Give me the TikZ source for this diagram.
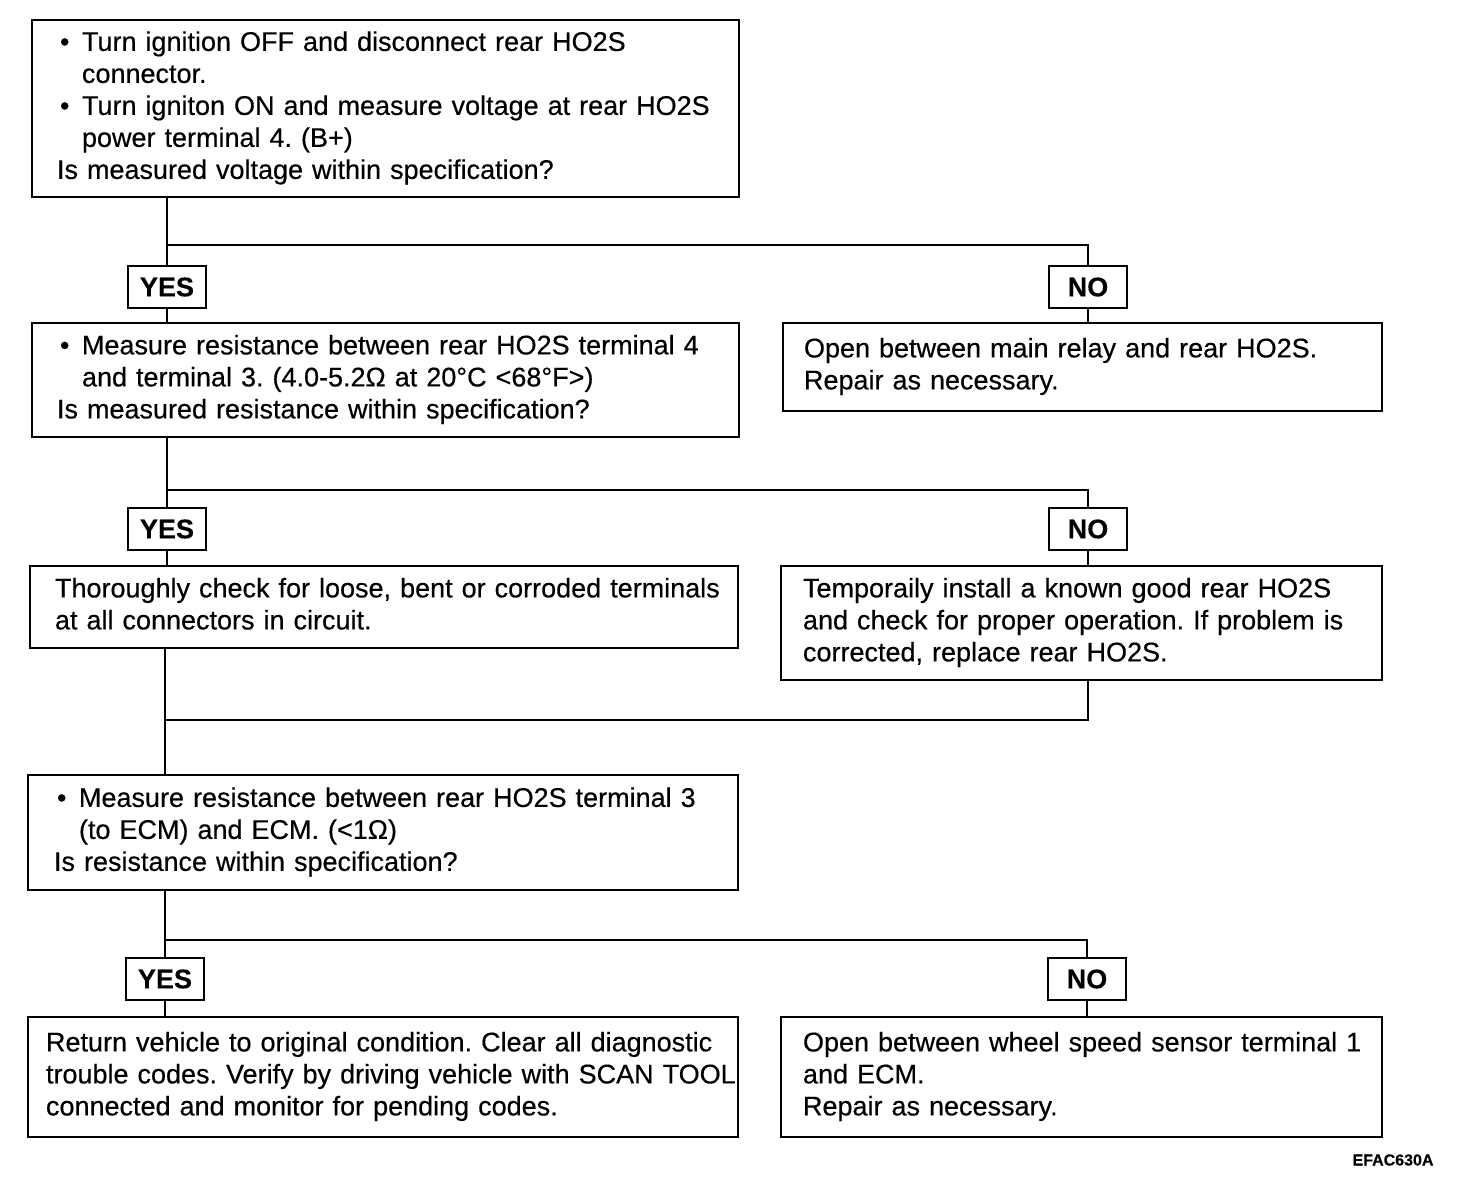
\documentclass[tikz,border=0pt]{standalone}
\usepackage{fontspec}
\setmainfont{Liberation Sans}[FakeBold=0.4,BoldFeatures={FakeBold=0.3}]
\usetikzlibrary{positioning}
\frenchspacing

\newcommand{\bul}{\makebox[25pt][l]{\hspace{3pt}\textbullet}}
\newcommand{\ind}{\hspace*{25pt}}

\begin{document}
\begin{tikzpicture}[x=1pt,y=-1pt,line width=2.8pt,
    box/.style={draw,rectangle,inner ysep=0pt,align=left,font=\fontsize{27}{32}\selectfont},
    tag/.style={draw,rectangle,inner sep=0pt,minimum width=78pt,minimum height=42pt,font=\fontsize{27}{32}\selectfont\bfseries}]
  \useasboundingbox (0,0) rectangle (1472,1198);
  % left column
  \node[box,inner xsep=25pt,text width=657pt,minimum height=177pt] (s1) at (385.5,108.5)
    {\begin{tabular}{@{}l@{}}
      \bul Turn ignition OFF and disconnect rear HO2S\\
      \ind connector.\\
      \bul Turn igniton ON and measure voltage at rear HO2S\\
      \ind power terminal 4. (B+)\\
      Is measured voltage within specification?
    \end{tabular}};
  \node[tag] (y1) at (167,287) {YES};
  \node[tag] (n1) at (1088,287) {NO};
  \node[box,inner xsep=25pt,text width=657pt,minimum height=114pt] (s2) at (385.5,380)
    {\begin{tabular}{@{}l@{}}
      \bul Measure resistance between rear HO2S terminal 4\\
      \ind and terminal 3. (4.0-5.2Ω at 20°C <68°F>)\\
      Is measured resistance within specification?
    \end{tabular}};
  \node[box,inner xsep=21pt,text width=557pt,minimum height=88pt] (r2) at (1082.5,367)
    {\begin{tabular}{@{}l@{}}
      Open between main relay and rear HO2S.\\
      Repair as necessary.
    \end{tabular}};
  \node[tag] (y2) at (167,529) {YES};
  \node[tag] (n2) at (1088,529) {NO};
  \node[box,inner xsep=25pt,text width=658pt,minimum height=82pt] (s3) at (384,607)
    {\begin{tabular}{@{}l@{}}
      Thoroughly check for loose, bent or corroded terminals\\
      at all connectors in circuit.
    \end{tabular}};
  \node[box,inner xsep=22pt,text width=557pt,minimum height=114pt] (r3) at (1081.5,623)
    {\begin{tabular}{@{}l@{}}
      Temporaily install a known good rear HO2S\\
      and check for proper operation. If problem is\\
      corrected, replace rear HO2S.
    \end{tabular}};
  \node[box,inner xsep=26pt,text width=658pt,minimum height=115pt] (s4) at (383,832.5)
    {\begin{tabular}{@{}l@{}}
      \bul Measure resistance between rear HO2S terminal 3\\
      \ind (to ECM) and ECM. (<1Ω)\\
      Is resistance within specification?
    \end{tabular}};
  \node[tag] (y3) at (165,979) {YES};
  \node[tag] (n3) at (1087,979) {NO};
  \node[box,inner xsep=18pt,text width=674pt,minimum height=120pt] (s5) at (383,1077)
    {\begin{tabular}{@{}l@{}}
      Return vehicle to original condition. Clear all diagnostic\\
      trouble codes. Verify by driving vehicle with SCAN TOOL\\
      connected and monitor for pending codes.
    \end{tabular}};
  \node[box,inner xsep=22pt,text width=557pt,minimum height=120pt] (r5) at (1081.5,1077)
    {\begin{tabular}{@{}l@{}}
      Open between wheel speed sensor terminal 1\\
      and ECM.\\
      Repair as necessary.
    \end{tabular}};
  \node[font=\fontsize{16}{18}\selectfont\bfseries] (code) at (1393,1160) {EFAC630A};
  % connectors
  \coordinate (j1) at (167,245);
  \coordinate (j2) at (167,490);
  \coordinate (m1) at (165,720);
  \coordinate (j3) at (165,940);
  \draw (y1 |- s1.south) -- (y1.north);
  \draw (y1.south) -- (y1 |- s2.north);
  \draw (j1) -| (n1.north);
  \draw (n1.south) -- (n1 |- r2.north);
  \draw (y2 |- s2.south) -- (y2.north);
  \draw (y2.south) -- (y2 |- s3.north);
  \draw (j2) -| (n2.north);
  \draw (n2.south) -- (n2 |- r3.north);
  \draw (m1 |- s3.south) -- (m1 |- s4.north);
  \draw (m1) -| (n2 |- r3.south);
  \draw (y3 |- s4.south) -- (y3.north);
  \draw (y3.south) -- (y3 |- s5.north);
  \draw (j3) -| (n3.north);
  \draw (n3.south) -- (n3 |- r5.north);
\end{tikzpicture}
\end{document}
